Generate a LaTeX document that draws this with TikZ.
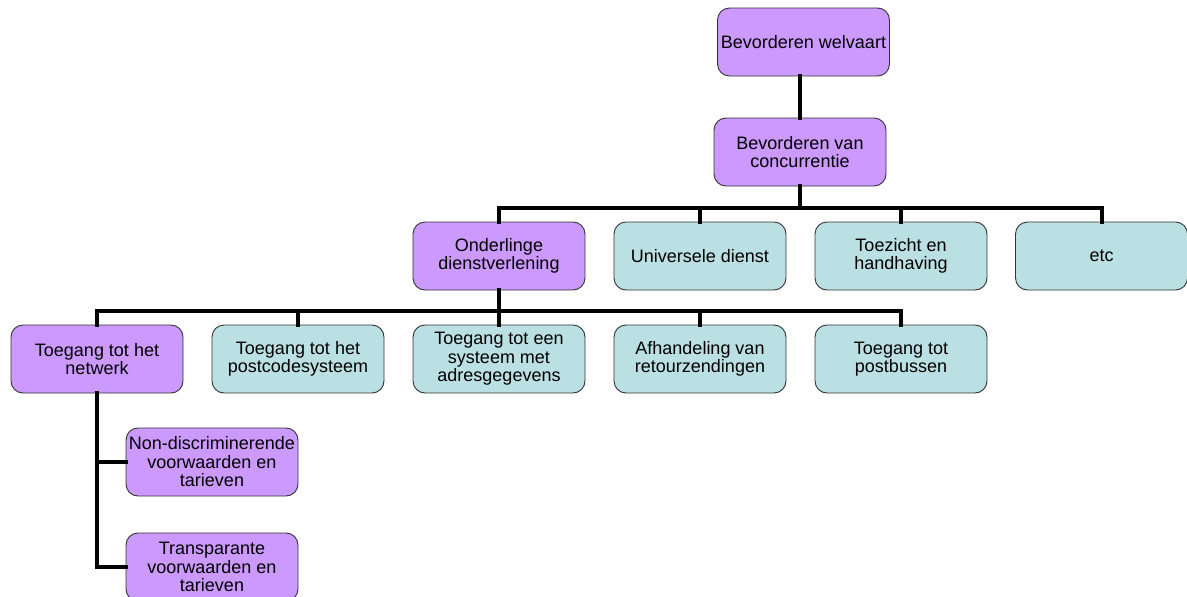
\documentclass[tikz,border=0pt]{standalone}
\usepackage{fontspec}
\setmainfont{Liberation Sans}
\definecolor{purp}{HTML}{CC99FF}
\definecolor{teal2}{HTML}{BBE0E3}
\definecolor{edge}{HTML}{333333}
\begin{document}
\begin{tikzpicture}[x=1pt,y=-1pt,
  box/.style={draw=edge, line width=0.9pt, rounded corners=12pt, minimum width=172pt, minimum height=68pt, inner sep=0pt, align=center, font=\fontsize{18}{18.5}\selectfont},
  pbox/.style={box, fill=purp},
  tbox/.style={box, fill=teal2},
  conn/.style={line width=4pt, line join=miter, line cap=rect}]
\useasboundingbox (0,0) rectangle (1187,597);
\clip (0,0) rectangle (1187,597);
\coordinate (b1) at (0,208);
\coordinate (b2) at (0,311);
\node[pbox] (wel) at (803.5,42) {Bevorderen welvaart};
\node[pbox] (conc) at (800,152) {Bevorderen van\\concurrentie};
\node[pbox] (ond) at (499,256) {Onderlinge\\dienstverlening};
\node[tbox] (uni) at (700,256) {Universele dienst};
\node[tbox] (toe) at (901,256) {Toezicht en\\handhaving};
\node[tbox] (etc) at (1101.5,256) {etc};
\node[pbox] (net) at (97,359) {Toegang tot het\\netwerk};
\node[tbox] (post) at (298,359) {Toegang tot het\\postcodesysteem};
\node[tbox] (adr) at (499,359) {Toegang tot een\\systeem met\\adresgegevens};
\node[tbox] (ret) at (700,359) {Afhandeling van\\retourzendingen};
\node[tbox] (pb) at (901,359) {Toegang tot\\postbussen};
\node[pbox] (nd) at (212,462) {Non-discriminerende\\voorwaarden en\\tarieven};
\node[pbox] (tr) at (212,567) {Transparante\\voorwaarden en\\tarieven};
\draw[conn] (conc.north) -- (conc.north |- wel.south);
\draw[conn] (conc.south) -- (conc.south |- b1);
\draw[conn] (ond.north) -- (ond.north |- b1) -- (etc.north |- b1) -- (etc.north);
\draw[conn] (uni.north) -- (uni.north |- b1);
\draw[conn] (toe.north) -- (toe.north |- b1);
\draw[conn] (ond.south) -- (ond.south |- b2);
\draw[conn] (net.north) -- (net.north |- b2) -- (pb.north |- b2) -- (pb.north);
\draw[conn] (post.north) -- (post.north |- b2);
\draw[conn] (adr.north) -- (adr.north |- b2);
\draw[conn] (ret.north) -- (ret.north |- b2);
\draw[conn] (net.south) -- (net.south |- tr.west) -- (tr.west);
\draw[conn] (net.south |- nd.west) -- (nd.west);
\end{tikzpicture}
\end{document}
